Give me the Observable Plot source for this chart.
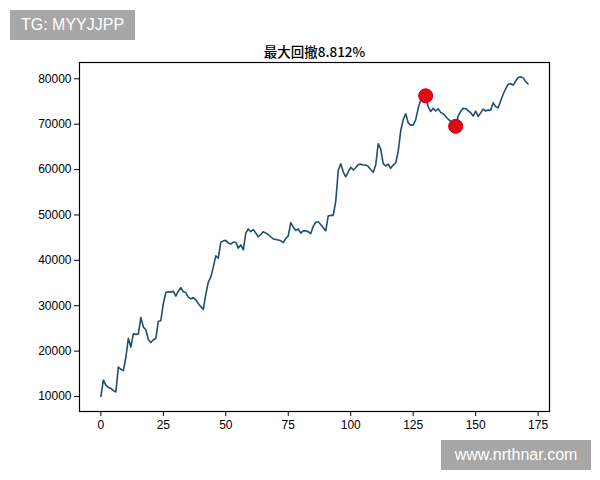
<!DOCTYPE html>
<html>
<head>
<meta charset="utf-8">
<script src="https://cdn.jsdelivr.net/npm/d3@7"></script>
<script src="https://cdn.jsdelivr.net/npm/@observablehq/plot@0.6"></script>
<style>
  html, body { margin: 0; padding: 0; background: #fff; }
  #wrap { position: relative; width: 600px; height: 480px; overflow: hidden; }
  .badge { position: absolute; background: #a7a7a7; color: #fff;
           font-family: "Liberation Sans", Arial, sans-serif; font-size: 16px;
           display: flex; align-items: center; justify-content: center; }
</style>
</head>
<body>
<div id="wrap"></div>
<script>
const titleText = "最大回撤8.812%";
const equity = [
  10000, 13600, 12500, 12000, 11800, 11300, 11000, 16500, 16000, 15700,
  18600, 22800, 20900, 23800, 23700, 23800, 27400, 25300, 24700, 22500,
  21900, 22500, 22800, 26600, 26700, 30500, 32900, 33100, 33000, 33200,
  32100, 33200, 34000, 33100, 32900, 31900, 31500, 31800, 31300, 30500,
  29800, 29200, 32500, 35200, 36300, 38500, 41000, 40500, 44000, 44300,
  44400, 43800, 43600, 44000, 44000, 42700, 43400, 42300, 46000, 46900,
  46300, 46800, 46000, 45200, 45700, 46300, 46000, 45700, 45200, 44700,
  44600, 44500, 44300, 43900, 44800, 45400, 48300, 47300, 46600, 46900,
  46000, 46500, 46500, 46300, 45900, 47500, 48400, 48500, 47900, 47200,
  46500, 49800, 49900, 49900, 53000, 59800, 61300, 59500, 58400, 59500,
  60500, 59900, 60400, 61100, 61200, 61000, 61000, 60700, 60000, 59400,
  61000, 65700, 64500, 61300, 60800, 61200, 60300, 61000, 61500, 64000,
  68500, 71000, 72300, 70300, 69800, 69800, 71000, 73500, 75300, 75800,
  76250, 73800, 72800, 73500, 72900, 73400, 72600, 72300, 71700, 71100,
  70600, 70100, 69531, 71800, 72800, 73500, 73400, 73000, 72500, 71800,
  72900, 71700, 72500, 73300, 72900, 73100, 73100, 74700, 73900, 73600,
  75100, 76600, 77800, 78800, 78900, 78600, 79500, 80300, 80450, 80200,
  79400, 78850
];
const markerIdx = [130, 142];
const xTicks = [0, 25, 50, 75, 100, 125, 150, 175];
const yTicks = [10000, 20000, 30000, 40000, 50000, 60000, 70000, 80000];
const badgeTop = "TG: MYYJJPP";
const badgeBottom = "www.nrthnar.com";

const series = equity.map((v, i) => ({i, v}));
const markers = markerIdx.map(i => ({i, v: equity[i]}));

const tickFont = "'Liberation Sans Narrow', 'Liberation Sans', Arial, sans-serif";

const chart = Plot.plot({
  width: 600,
  height: 480,
  marginLeft: 79,
  marginRight: 51,
  marginTop: 62,
  marginBottom: 69,
  style: {fontFamily: tickFont, fontSize: "12px", color: "#000", background: "transparent", overflow: "visible"},
  x: {domain: [-8.55, 179.55], ticks: xTicks, tickSize: 5, tickPadding: 4, label: null, tickFormat: d => String(d)},
  y: {domain: [6700, 83590], ticks: yTicks, tickSize: 5, tickPadding: 3, label: null, tickFormat: d => String(d)},
  marks: [
    Plot.frame({stroke: "#000", strokeWidth: 1.2}),
    Plot.axisX({ticks: xTicks, tickSize: 5, tickPadding: 4, fontSize: 12, tickFormat: d => String(d)}),
    Plot.axisY({ticks: yTicks, tickSize: 5, tickPadding: 3, fontSize: 12, tickFormat: d => String(d)}),
    Plot.line(series, {x: "i", y: "v", stroke: "#1d4f73", strokeWidth: 1.6}),
    Plot.dot(markers, {x: "i", y: "v", r: 7, fill: "#e30613", stroke: "#c00010", strokeWidth: 1}),
    Plot.text([titleText], {frameAnchor: "top", dy: -15, fontSize: 13.5, fontFamily: "'Noto Sans CJK SC', sans-serif", fontWeight: 500, fill: "#000"})
  ]
});

const wrap = document.getElementById("wrap");
wrap.appendChild(chart);
chart.style.position = "absolute";
chart.style.left = "0px";
chart.style.top = "0px";

const b1 = document.createElement("div");
b1.className = "badge";
b1.textContent = badgeTop;
Object.assign(b1.style, {left: "10px", top: "10px", width: "125px", height: "30px"});
wrap.appendChild(b1);

const b2 = document.createElement("div");
b2.className = "badge";
b2.textContent = badgeBottom;
Object.assign(b2.style, {left: "441px", top: "440px", width: "150px", height: "30px"});
wrap.appendChild(b2);
</script>
</body>
</html>
